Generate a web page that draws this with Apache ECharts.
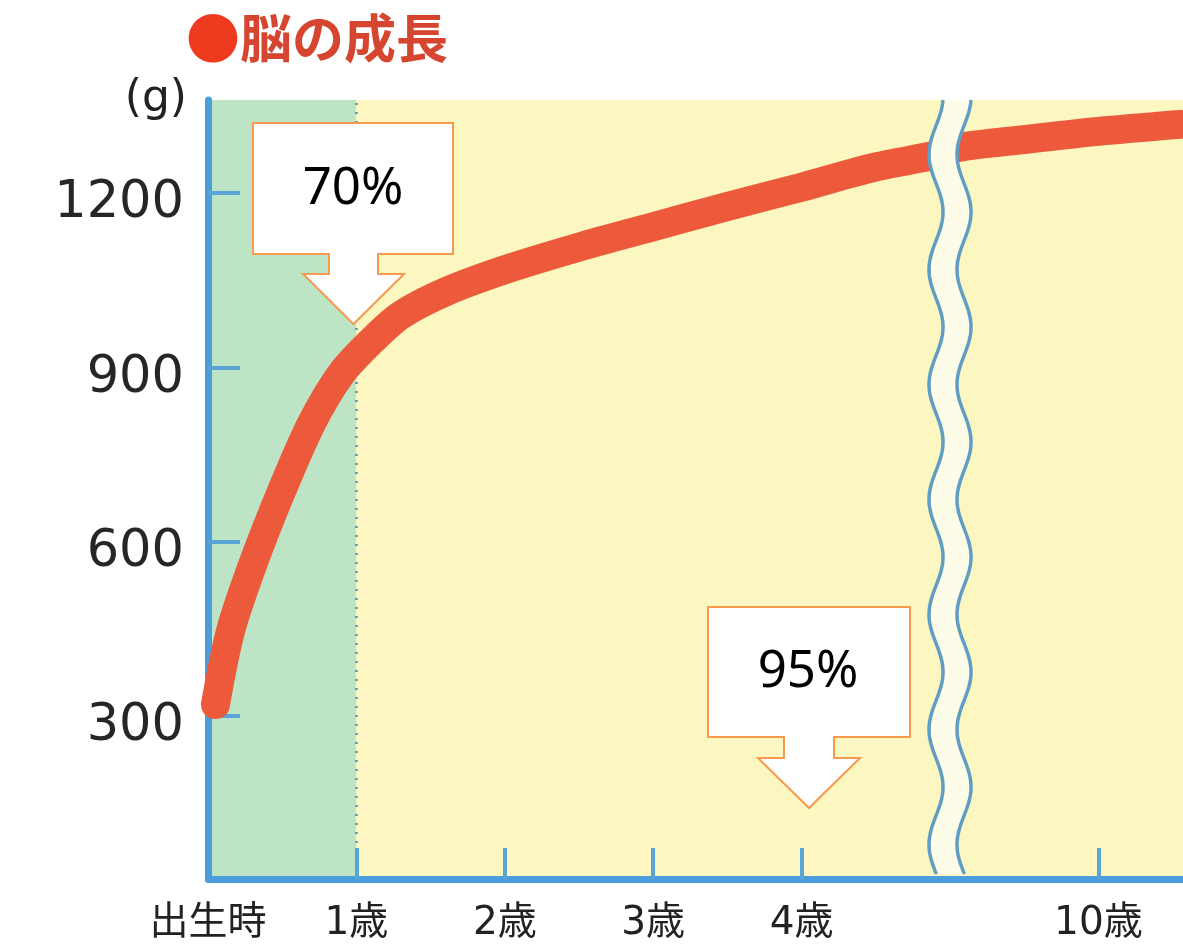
<!DOCTYPE html>
<html><head><meta charset="utf-8">
<script src="https://cdn.jsdelivr.net/npm/echarts@6/dist/echarts.min.js"></script>
<style>html,body{margin:0;padding:0;background:#fff}#c{width:1183px;height:946px}</style>
</head><body><div id="c"></div>
<script>
// ---- data ----
const ages    = [0.05, 0.15, 0.30, 0.50, 0.70, 0.90, 1.10, 1.30, 1.60, 2.00, 2.50, 3.00, 3.50, 4.00, 4.50, 4.90, 9.05, 9.50, 10.00, 10.55];
const weights = [320,  445,  560,  690,  805,  890,  945,  990,  1030, 1068, 1107, 1142, 1177, 1210, 1245, 1265, 1278, 1292, 1306,  1318];
const xLabelValues = [0, 1, 2, 3, 4, 10];
const xLabelTexts  = ['出生時', '1歳', '2歳', '3歳', '4歳', '10歳'];
const xTickValues  = [1, 2, 3, 4, 10];
const yTickValues  = [300, 600, 900, 1200];
const axisBreak    = {start: 5, end: 9};
const titleText    = '脳の成長';
const unitText     = '(g)';
const calloutTexts = ['70%', '95%'];

const X_MIN = 0, X_MAX = 10.57, Y_MIN = 20, Y_MAX = 1360;
const BLUE = '#4a9edb';

const chart = echarts.init(document.getElementById('c'), null, {renderer: 'canvas'});
const option = {
  backgroundColor: '#ffffff',
  animation: false,
  title: {
    text: '{dot|●}{t|' + titleText + '}',
    left: 181, top: 6,
    textStyle: {
      rich: {
        dot: {fontSize: 54, color: '#ee3b1f', fontFamily: 'Noto Sans CJK JP'},
        t: {fontSize: 52, color: '#d6452f', fontWeight: 'bold', fontFamily: 'Noto Sans CJK JP'}
      }
    }
  },
  grid: {left: 208, right: -4, top: 100, bottom: 67},
  xAxis: {
    type: 'value', min: X_MIN, max: X_MAX, z: 20,
    breaks: [{start: axisBreak.start, end: axisBreak.end, gap: 0}],
    breakArea: {show: false},
    splitLine: {show: false},
    axisLine: {show: true, lineStyle: {color: BLUE, width: 7}},
    axisTick: {show: true, inside: true, length: 31, customValues: xTickValues,
               lineStyle: {color: '#5aa5d8', width: 4}},
    axisLabel: {
      customValues: xLabelValues, margin: 25,
      fontSize: 39, color: '#222', fontFamily: "'DejaVu Sans','Noto Sans CJK JP'",
      formatter: v => { const i = xLabelValues.indexOf(v); return i >= 0 ? xLabelTexts[i] : ''; }
    }
  },
  yAxis: {
    type: 'value', min: Y_MIN, max: Y_MAX, z: 20,
    splitLine: {show: false},
    axisLine: {show: true, lineStyle: {color: BLUE, width: 7}},
    axisTick: {show: true, inside: true, length: 32, customValues: yTickValues,
               lineStyle: {color: '#5aa5d8', width: 4}},
    axisLabel: {customValues: yTickValues, margin: 24,
                formatter: v => '{n|' + v + '}',
                rich: {n: {fontSize: 51, color: '#262626', fontFamily: 'DejaVu Sans',
                           padding: [22, 0, 0, 0]}}}
  },
  series: [
    {
      type: 'line', data: [], z: 1, silent: true,
      markArea: {
        silent: true,
        data: [
          [{xAxis: 0, itemStyle: {color: '#bde4c4'}}, {xAxis: 1}],
          [{xAxis: 1, itemStyle: {color: '#fcf6c0'}}, {xAxis: X_MAX}]
        ]
      },
      markLine: {
        silent: true, symbol: ['none', 'none'], label: {show: false},
        lineStyle: {color: '#5b93bf', width: 2.5, type: [2, 7]},
        data: [{xAxis: 1}]
      }
    },
    {
      type: 'line', z: 30, silent: true, clip: false,
      data: ages.map((a, i) => [a, weights[i]]),
      smooth: 0.3, symbol: 'none',
      lineStyle: {width: 29, color: '#ec5a3b', cap: 'round', join: 'round'}
    }
  ]
};
chart.setOption(option);

// decorations: wavy break lines and callout arrows
const bp = chart.convertToPixel({xAxisIndex: 0}, axisBreak.start);
const yTop = chart.convertToPixel({yAxisIndex: 0}, Y_MAX);
const yBot = chart.convertToPixel({yAxisIndex: 0}, Y_MIN) - 4;
function wave(cx) {
  const pts = [];
  for (let y = yTop; y <= yBot; y += 2) {
    pts.push([cx + 7 * Math.cos(2 * Math.PI * (y - 327) / 115), y]);
  }
  return pts;
}
const L = wave(bp - 14), R = wave(bp + 14);
function callout(x0, y0, x1, y1, sx0, sx1, hx0, hx1, hy, tipY) {
  const tx = (hx0 + hx1) / 2;
  return [[x0, y0], [x1, y0], [x1, y1], [sx1, y1], [sx1, hy], [hx1, hy], [tx, tipY],
          [hx0, hy], [sx0, hy], [sx0, y1], [x0, y1]];
}
const c1 = callout(253, 123, 453, 254, 329, 378, 303, 404, 274, 324);
const c2 = callout(708, 607, 910, 737, 784, 834, 758, 860, 758, 808);
chart.setOption({
  graphic: [
    {type: 'polygon', z: 50, shape: {points: L.concat(R.slice().reverse())}, style: {fill: '#fdfce8'}},
    {type: 'polyline', z: 51, shape: {points: L}, style: {stroke: '#5f9dc4', lineWidth: 3.5, fill: null}},
    {type: 'polyline', z: 51, shape: {points: R}, style: {stroke: '#5f9dc4', lineWidth: 3.5, fill: null}},
    {type: 'polygon', z: 60, shape: {points: c1}, style: {fill: '#ffffff', stroke: '#f79a4e', lineWidth: 2}},
    {type: 'polygon', z: 60, shape: {points: c2}, style: {fill: '#ffffff', stroke: '#f79a4e', lineWidth: 2}},
    {type: 'text', z: 61, x: 353, y: 189, style: {text: calloutTexts[0], fill: '#000', font: '51px "Noto Sans"', align: 'center', verticalAlign: 'middle'}},
    {type: 'text', z: 61, x: 808, y: 672, style: {text: calloutTexts[1], fill: '#000', font: '51px "Noto Sans"', align: 'center', verticalAlign: 'middle'}},
    {type: 'text', z: 61, x: 187, y: 100, style: {text: unitText, fill: '#222', font: '44px "DejaVu Sans"', align: 'right', verticalAlign: 'middle'}}
  ]
});
</script></body></html>
